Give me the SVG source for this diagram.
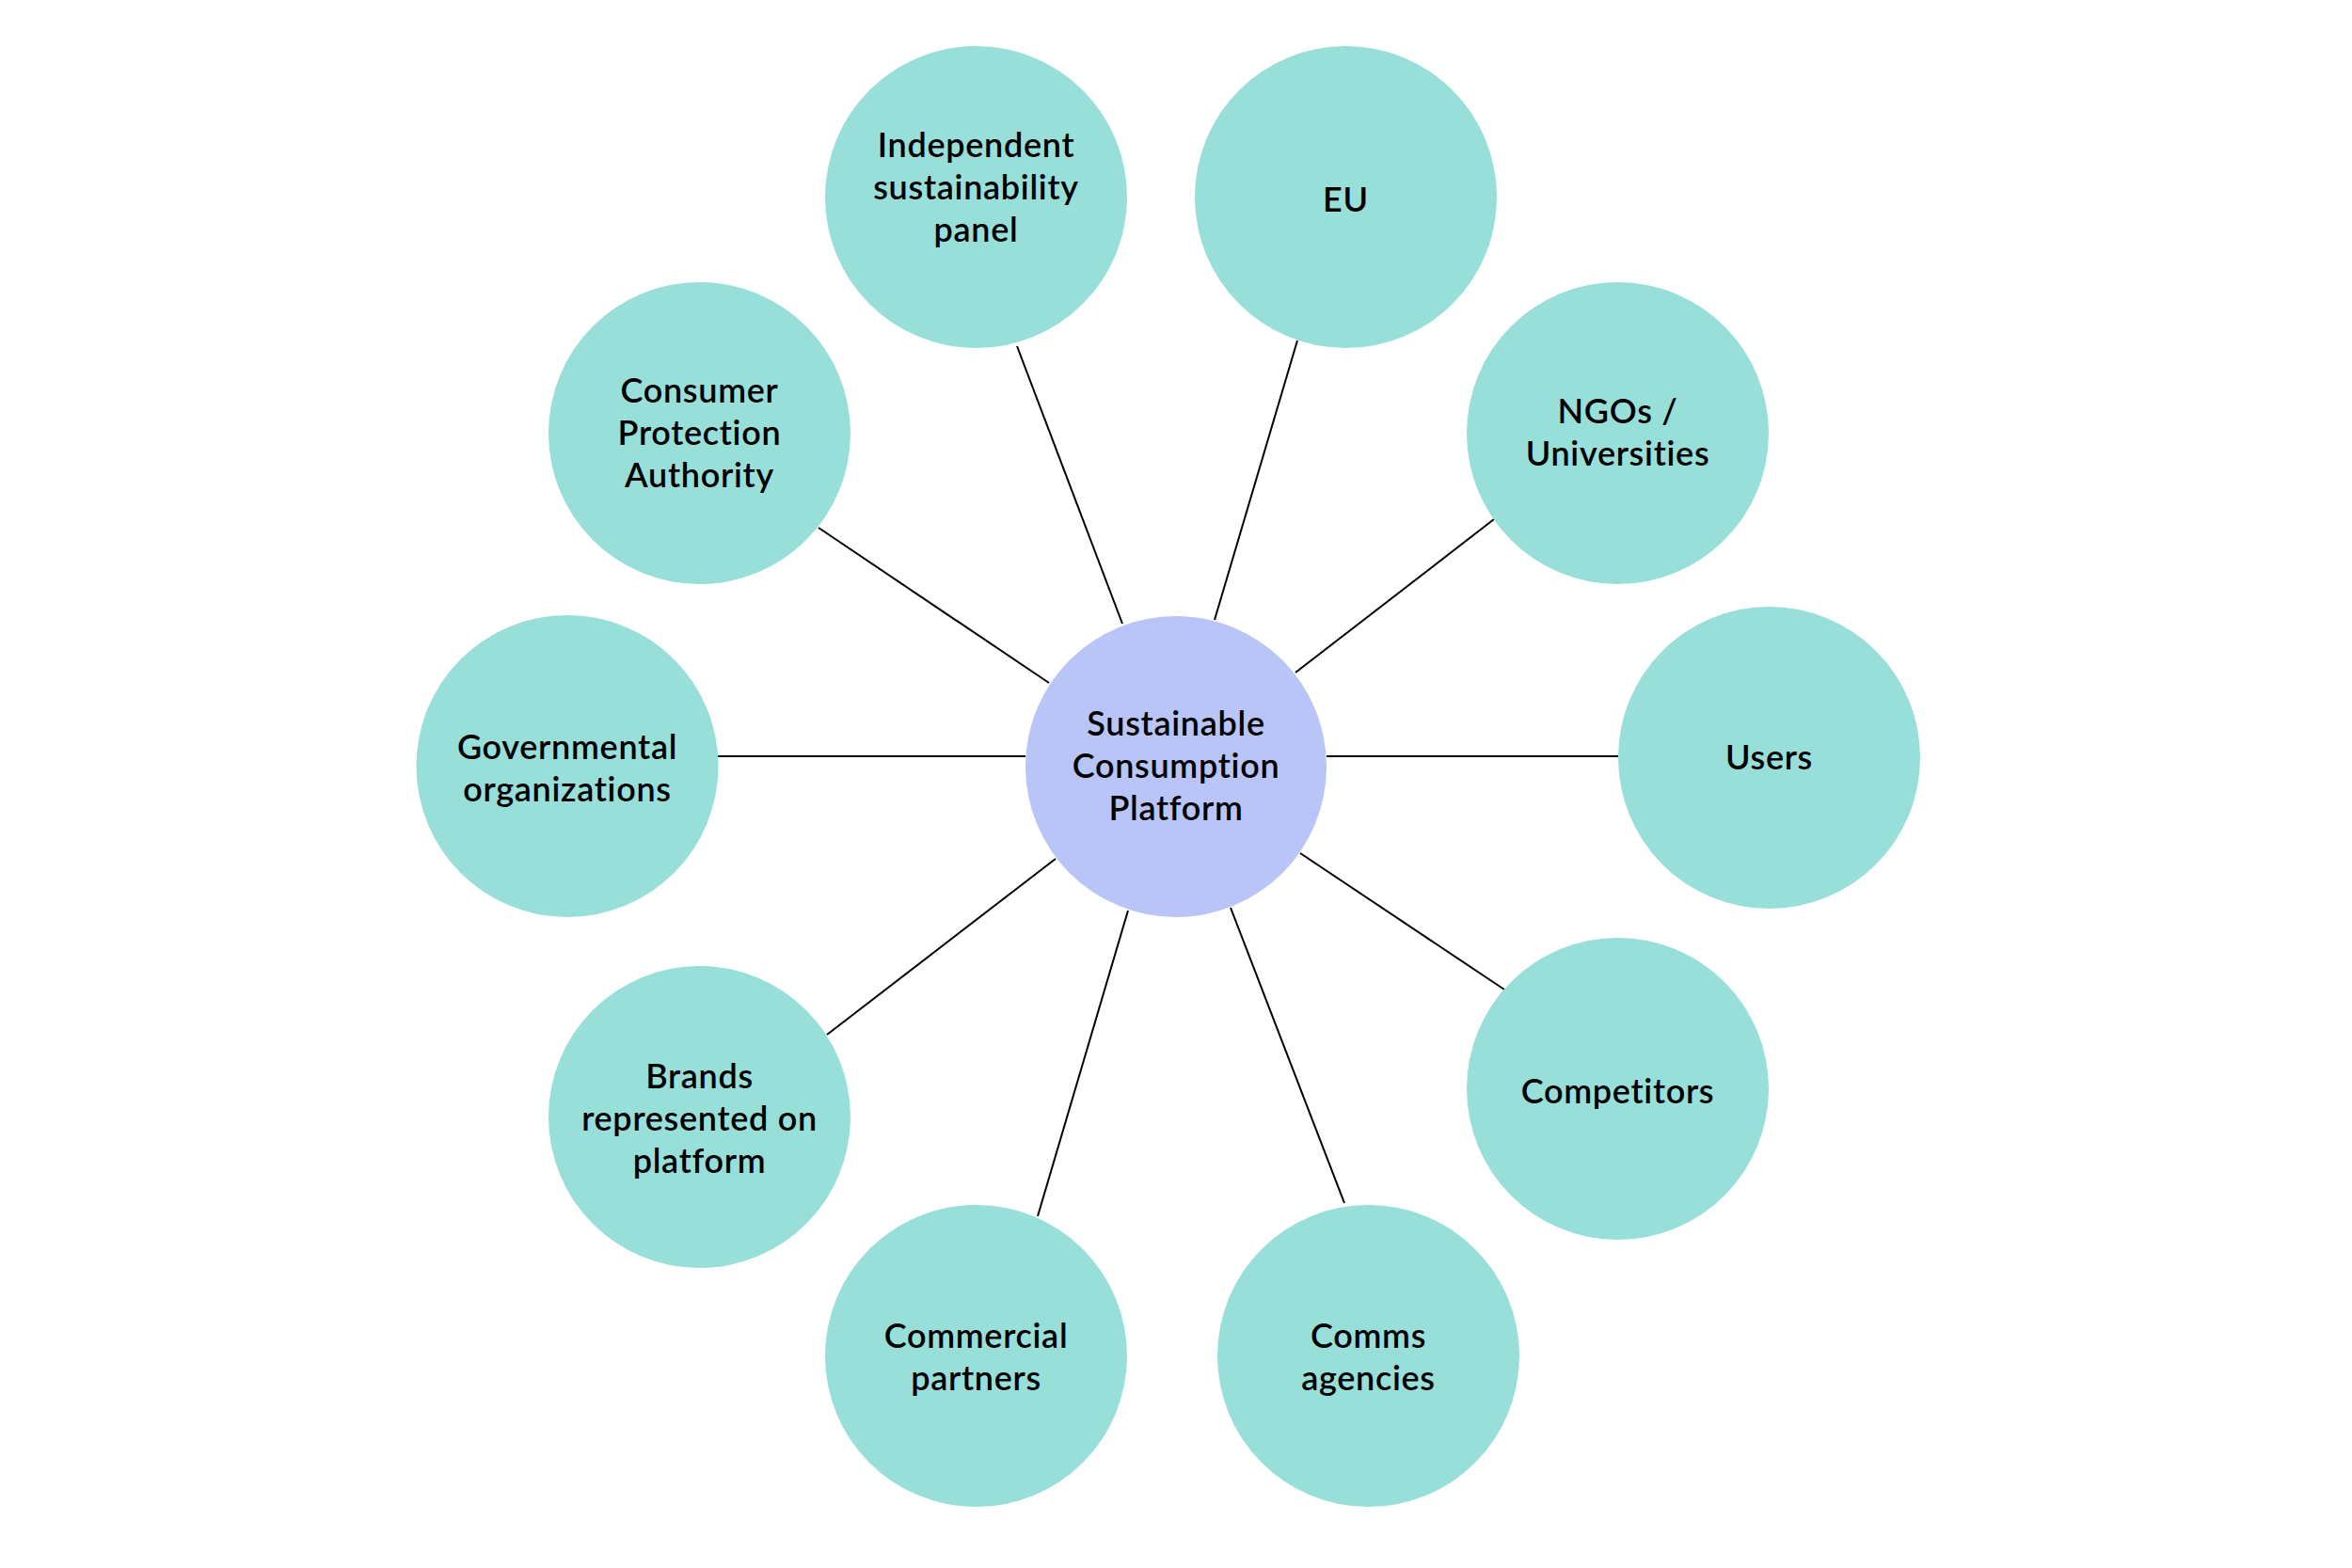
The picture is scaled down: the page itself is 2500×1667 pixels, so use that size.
<svg xmlns="http://www.w3.org/2000/svg" width="2500" height="1667" viewBox="0 0 2500 1667">
<style>
.n{fill:#98ded9}
.c{fill:#b8c5f6}
text{font-family:"Lato","Noto Sans",sans-serif;font-size:36px;font-weight:600;letter-spacing:0.7px;fill:#000;text-anchor:middle}
.e line{stroke:#000;stroke-width:2}
</style>
<rect width="2500" height="1667" fill="#fff"/>
<g id="connectors" class="e">
<line x1="1081" y1="368" x2="1193" y2="663"/>
<line x1="1379" y1="362" x2="1291" y2="659"/>
<line x1="1588" y1="552" x2="1377" y2="715"/>
<line x1="1410" y1="804" x2="1720" y2="804"/>
<line x1="1382" y1="907" x2="1599" y2="1052"/>
<line x1="1308" y1="965" x2="1429" y2="1279"/>
<line x1="1199" y1="968" x2="1103" y2="1293"/>
<line x1="1122" y1="913" x2="879" y2="1100"/>
<line x1="763" y1="804" x2="1090" y2="804"/>
<line x1="870" y1="561" x2="1115" y2="726"/>
</g>
<g id="center"><circle class="c" cx="1250" cy="815" r="160"/><text x="1250" y="782">Sustainable</text><text x="1250" y="827">Consumption</text><text x="1250" y="872">Platform</text></g>
<g id="independent"><circle class="n" cx="1037.5" cy="209.5" r="160.5"/><text x="1037.5" y="167">Independent</text><text x="1037.5" y="212">sustainability</text><text x="1037.5" y="257">panel</text></g>
<g id="eu"><circle class="n" cx="1430.5" cy="209.5" r="160.5"/><text x="1430.5" y="225">EU</text></g>
<g id="ngos"><circle class="n" cx="1719.5" cy="460.5" r="160.5"/><text x="1719.5" y="450">NGOs /</text><text x="1719.5" y="495">Universities</text></g>
<g id="users"><circle class="n" cx="1880.5" cy="805.5" r="160.5"/><text x="1880.5" y="818">Users</text></g>
<g id="competitors"><circle class="n" cx="1719.5" cy="1157.5" r="160.5"/><text x="1719.5" y="1173">Competitors</text></g>
<g id="comms"><circle class="n" cx="1454.5" cy="1441.5" r="160.5"/><text x="1454.5" y="1433">Comms</text><text x="1454.5" y="1478">agencies</text></g>
<g id="commercial"><circle class="n" cx="1037.5" cy="1441.5" r="160.5"/><text x="1037.5" y="1433">Commercial</text><text x="1037.5" y="1478">partners</text></g>
<g id="brands"><circle class="n" cx="743.5" cy="1187.5" r="160.5"/><text x="743.5" y="1157">Brands</text><text x="743.5" y="1202">represented on</text><text x="743.5" y="1247">platform</text></g>
<g id="governmental"><circle class="n" cx="603" cy="814.5" r="160.5"/><text x="603" y="807">Governmental</text><text x="603" y="852">organizations</text></g>
<g id="consumer"><circle class="n" cx="743.5" cy="460.5" r="160.5"/><text x="743.5" y="428">Consumer</text><text x="743.5" y="473">Protection</text><text x="743.5" y="518">Authority</text></g>
</svg>
